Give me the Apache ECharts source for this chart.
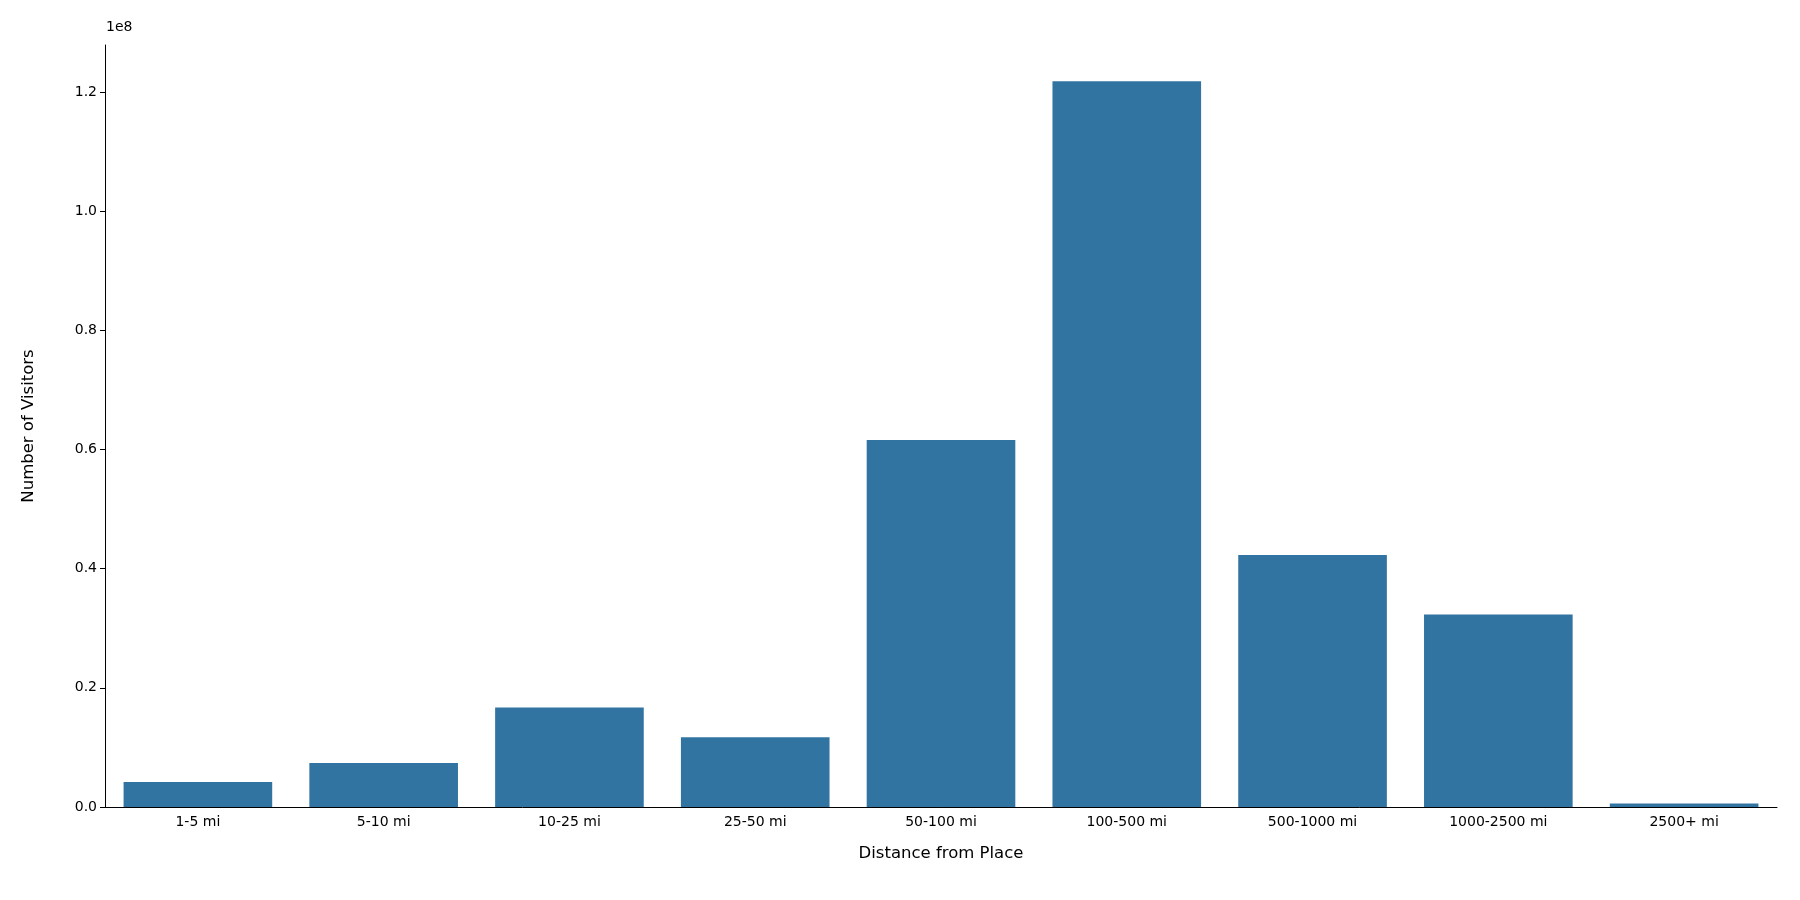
<!DOCTYPE html>
<html><head><meta charset="utf-8">
<script src="https://cdn.jsdelivr.net/npm/echarts@6/dist/echarts.min.js"></script>
<style>html,body{margin:0;background:#fff}#c{width:1800px;height:900px}</style>
</head><body><div id="c"></div>
<script>
const categories = ["1-5 mi","5-10 mi","10-25 mi","25-50 mi","50-100 mi","100-500 mi","500-1000 mi","1000-2500 mi","2500+ mi"];
const visitors = [4.2e6, 7.4e6, 16.7e6, 11.7e6, 61.6e6, 121.8e6, 42.3e6, 32.3e6, 0.6e6];
const chart = echarts.init(document.getElementById('c'));
const font = 'DejaVu Sans';
chart.setOption({
  animation:false,
  grid:{left:105,right:23,top:45,bottom:93},
  graphic:[{type:'text',left:106,top:20,style:{text:'1e8',font:'14px DejaVu Sans',fill:'#000'}}],
  xAxis:{type:'category',data:categories,name:'Distance from Place',nameLocation:'middle',nameGap:38,
    nameTextStyle:{fontFamily:font,fontSize:16.5,color:'#000'},
    axisLine:{lineStyle:{color:'#000'}},axisTick:{alignWithLabel:true,length:5,lineStyle:{color:'#000'}},
    axisLabel:{fontFamily:font,fontSize:14,color:'#000',margin:8}},
  yAxis:{type:'value',min:0,max:1.279e8,interval:0.2e8,name:'Number of Visitors',nameLocation:'middle',nameGap:68,
    nameTextStyle:{fontFamily:font,fontSize:16.5,color:'#000'},
    axisLine:{show:true,lineStyle:{color:'#000'}},axisTick:{show:true,length:5,lineStyle:{color:'#000'}},
    splitLine:{show:false},
    axisLabel:{fontFamily:font,fontSize:14,color:'#000',showMaxLabel:false,formatter:v=>(v/1e8).toFixed(1)}},
  series:[{type:'bar',data:visitors,barCategoryGap:'20%',itemStyle:{color:'#3274a1'}}]
});
</script></body></html>
